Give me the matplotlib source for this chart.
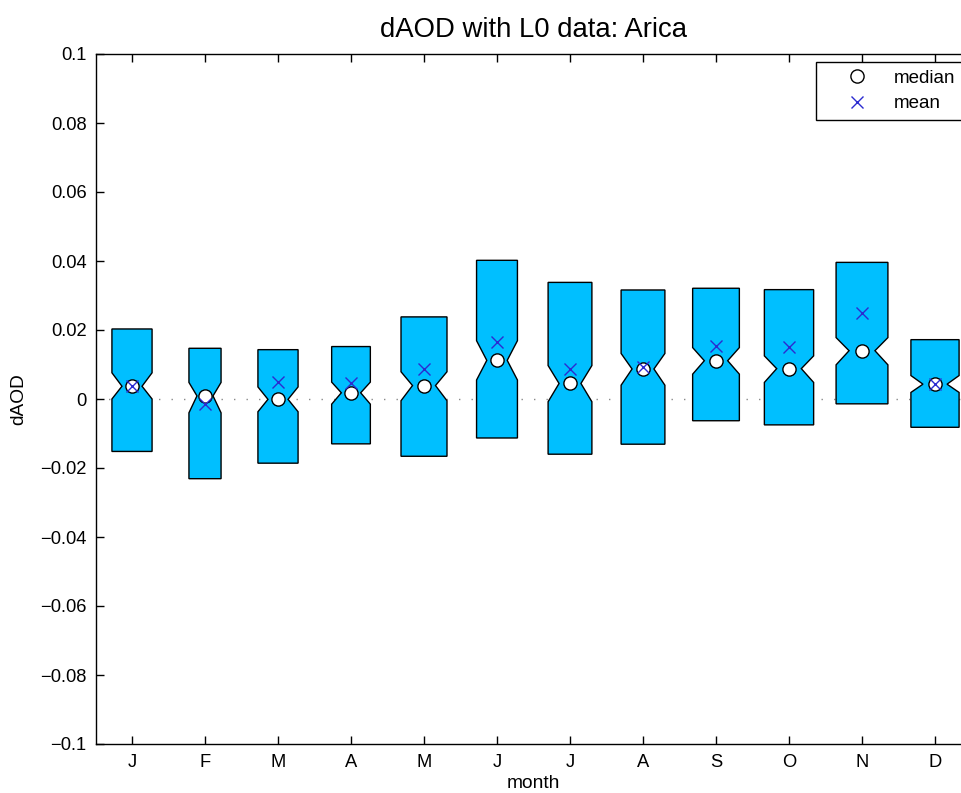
import numpy as np
import matplotlib
matplotlib.use("Agg")
import matplotlib.pyplot as plt
from matplotlib.lines import Line2D

# ── Data ────────────────────────────────────────────────────────────────────────
months = ["J", "F", "M", "A", "M", "J", "J", "A", "S", "O", "N", "D"]
q1     = [-0.0152, -0.0231, -0.0186, -0.0130, -0.0166, -0.0113,
          -0.0160, -0.0131, -0.0063, -0.0075, -0.0014, -0.0082]
q3     = [0.0203, 0.0147, 0.0143, 0.0152, 0.0238, 0.0402,
          0.0338, 0.0316, 0.0321, 0.0317, 0.0396, 0.0172]
median = [0.0037, 0.0009, -0.0001, 0.0018, 0.0039, 0.0112,
          0.0045, 0.0087, 0.0111, 0.0088, 0.0140, 0.0043]
ci_lo  = [0.0000, -0.0040, -0.0037, -0.0015, -0.0005, 0.0055,
          -0.0008, 0.0040, 0.0072, 0.0048, 0.0099, 0.0019]
ci_hi  = [0.0076, 0.0048, 0.0035, 0.0049, 0.0079, 0.0169,
          0.0097, 0.0132, 0.0149, 0.0125, 0.0178, 0.0068]
mean   = [0.0037, -0.0015, 0.0048, 0.0047, 0.0087, 0.0166,
          0.0086, 0.0093, 0.0153, 0.0152, 0.0250, 0.0043]

# variable box widths (x units)
box_widths = [0.55, 0.44, 0.55, 0.53, 0.63, 0.56,
              0.60, 0.60, 0.64, 0.675, 0.71, 0.66]

yticks = np.round(np.arange(-0.1, 0.1001, 0.02), 2)
ytick_labels = ["\u22120.1", "\u22120.08", "\u22120.06", "\u22120.04", "\u22120.02",
                "0", "0.02", "0.04", "0.06", "0.08", "0.1"]

BOX = "#00bfff"
MEAN = "#2b2bd0"

plt.rcParams["font.family"] = ["Liberation Sans", "DejaVu Sans"]

fig = plt.figure(figsize=(9.61, 7.93), dpi=100)
ax = fig.add_axes([95.5 / 961, 49 / 793, 876 / 961, 690 / 793])

pos = np.arange(1, len(months) + 1)
stats = []
for i in range(len(months)):
    stats.append(dict(med=median[i], q1=q1[i], q3=q3[i], cilo=ci_lo[i], cihi=ci_hi[i],
                      whislo=q1[i], whishi=q3[i], fliers=[], mean=mean[i]))

ax.axhline(0, color="#8a8a8a", lw=1, linestyle=(0, (1, 8)), zorder=0)

ax.bxp(stats, positions=pos, widths=box_widths, shownotches=True, patch_artist=True,
       showcaps=False, showfliers=False, showmeans=False,
       boxprops=dict(facecolor=BOX, edgecolor="black", linewidth=1.0),
       medianprops=dict(linewidth=0),
       whiskerprops=dict(linewidth=0))

ax.plot(pos, median, "o", ms=9.5, mfc="white", mec="black", mew=1.0,
        ls="none", zorder=3)
ax.plot(pos, mean, "x", ms=9, color=MEAN, mew=1.0, ls="none", zorder=4)

ax.set_xlim(0.5, 12.5)
ax.set_ylim(-0.1, 0.1)
ax.set_xticks(pos)
ax.set_xticklabels(months)
ax.set_yticks(yticks)
ax.set_yticklabels(ytick_labels)
ax.tick_params(direction="in", length=6, width=1, labelsize=13.2,
               top=True, right=True)
ax.tick_params(axis="y", pad=6.5)
ax.tick_params(axis="x", pad=7)
for s in ax.spines.values():
    s.set_linewidth(1.0)

ax.set_title("dAOD with L0 data: Arica", fontsize=19.8, pad=12)
ax.set_xlabel("month", fontsize=13.8)
ax.set_ylabel("dAOD", fontsize=13.8)
ax.xaxis.set_label_coords(0.5, -0.045)
ax.yaxis.set_label_coords(-0.078, 0.5)

handles = [Line2D([], [], marker="o", ls="none", ms=9.5, mfc="white", mec="black", mew=1.0),
           Line2D([], [], marker="x", ls="none", ms=9, color=MEAN, mew=1.0)]
leg = ax.legend(handles, ["median", "mean"], loc="upper left",
                bbox_to_anchor=(0.8225, 0.9884), fontsize=13.5, fancybox=False,
                framealpha=1, edgecolor="black", borderpad=0.4,
                handlelength=3.6, handletextpad=0.15, labelspacing=0.46,
                borderaxespad=0)
leg.get_frame().set_linewidth(1.0)

fig.savefig("out.png", dpi=100)
